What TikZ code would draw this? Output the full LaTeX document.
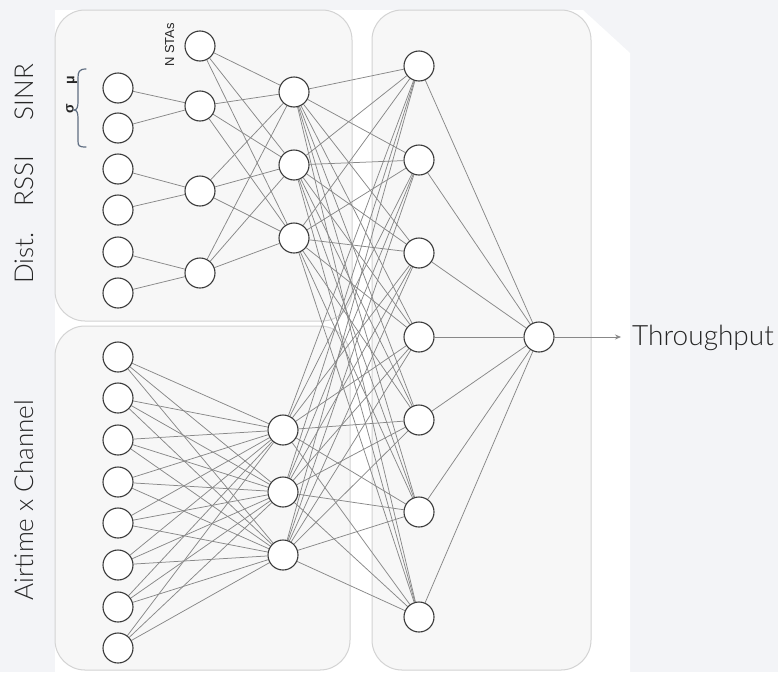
\documentclass[tikz,border=0pt]{standalone}
\usepackage{fontspec}
\usetikzlibrary{arrows.meta}
\newfontfamily\lbl{Lato Light}
\newfontfamily\smallf{Liberation Sans}
\pgfdeclarelayer{back}
\pgfdeclarelayer{edges}
\pgfsetlayers{back,edges,main}
\definecolor{pagebg}{HTML}{F3F4F7}
\definecolor{boxfill}{HTML}{F7F7F7}
\definecolor{boxline}{HTML}{D3D3D3}
\definecolor{edgec}{HTML}{888888}
\definecolor{nodec}{HTML}{3A3A3A}
\definecolor{bracec}{HTML}{5F6E82}
\definecolor{textc}{HTML}{262626}
\tikzset{
  neuron/.style={circle, draw=nodec, line width=1.1pt, fill=white, minimum size=30pt, inner sep=0pt},
  conn/.style={draw=edgec, line width=0.75pt},
  groupbox/.style={draw=boxline, fill=boxfill, line width=1pt, rounded corners=30pt},
  sidelabel/.style={font=\lbl\fontsize{26}{30}\selectfont, rotate=90, anchor=base, inner sep=0pt, text=textc},
  greek/.style={font=\smallf\bfseries\fontsize{14}{16}\selectfont, rotate=90, inner sep=0pt, text=textc},
}
\begin{document}
\begin{tikzpicture}[x=1pt,y=-1pt]
\useasboundingbox (0,0) rectangle (778,672);
\begin{pgfonlayer}{back}
  \fill[pagebg] (0,0) rectangle (778,672);
  \fill[white] (55,10) -- (583,10) -- (630,53) -- (630,672) -- (55,672) -- cycle;
  \path[groupbox] (55,10) rectangle (352,321);
  \path[groupbox] (55,326) rectangle (350,670);
  \path[groupbox] (372,10) rectangle (591,670);
\end{pgfonlayer}

% top input column
\foreach \i/\y in {1/88,2/128,3/169,4/210,5/252,6/293}
  \node[neuron] (a\i) at (118,\y) {};
% top second column
\foreach \i/\y in {1/46,2/106,3/191,4/273}
  \node[neuron] (b\i) at (200,\y) {};
% top third column
\foreach \i/\y in {1/92,2/165,3/238}
  \node[neuron] (c\i) at (294,\y) {};
% bottom input column
\foreach \i/\y in {1/357,2/398,3/440,4/482,5/523,6/565,7/607,8/648}
  \node[neuron] (d\i) at (118,\y) {};
% bottom hidden column
\foreach \i/\y in {1/430,2/492,3/555}
  \node[neuron] (e\i) at (283,\y) {};
% right column
\foreach \i/\y in {1/66,2/160,3/253,4/337,5/420,6/512,7/617}
  \node[neuron] (f\i) at (419,\y) {};
% output
\node[neuron] (out) at (539,337) {};

\begin{pgfonlayer}{edges}
  \draw[conn] (a1) -- (b2); \draw[conn] (a2) -- (b2);
  \draw[conn] (a3) -- (b3); \draw[conn] (a4) -- (b3);
  \draw[conn] (a5) -- (b4); \draw[conn] (a6) -- (b4);
  \foreach \i in {1,...,4} \foreach \j in {1,2,3} \draw[conn] (b\i) -- (c\j);
  \foreach \i in {1,2,3} \foreach \j in {1,...,7} \draw[conn] (c\i) -- (f\j);
  \foreach \i in {1,...,8} \foreach \j in {1,2,3} \draw[conn] (d\i) -- (e\j);
  \foreach \i in {1,2,3} \foreach \j in {1,...,7} \draw[conn] (e\i) -- (f\j);
  \foreach \j in {1,...,7} \draw[conn] (f\j) -- (out);
\end{pgfonlayer}

% output label and arrow
\node[font=\lbl\fontsize{28}{32}\selectfont, anchor=base west, inner sep=0pt, text=textc] (tp) at (632,345) {Throughput};
\coordinate (tpin) at (621,337);
\draw[conn, -{Stealth[length=6pt,width=5pt]}] (out) -- (tpin);

% side labels
\node[sidelabel] (lsinr) at (33,92) {SINR};
\node[sidelabel] (lrssi) at (33,181) {RSSI};
\node[sidelabel] (ldist) at (33,258) {Dist.};
\node[sidelabel] (lair) at (33,500) {Airtime x Channel};

% NSTAs
\node[font=\smallf\fontsize{13}{15}\selectfont, rotate=90, anchor=base, inner sep=0pt, text=textc] (nsta) at (174,45) {N STAs};

% mu / sigma with brace
\node[greek] (mu) at (72,80) {μ};
\node[greek] (sig) at (70,109) {σ};
\draw[bracec, line width=1.2pt, line cap=round]
  (86,69) .. controls (79,69) and (78,72) .. (78,78) -- (78,102)
  .. controls (78,107) and (77,110) .. (74,110)
  .. controls (77,110) and (78,113) .. (78,118) -- (78,141)
  .. controls (78,146) and (79,147) .. (86,147);
\end{tikzpicture}
\end{document}
